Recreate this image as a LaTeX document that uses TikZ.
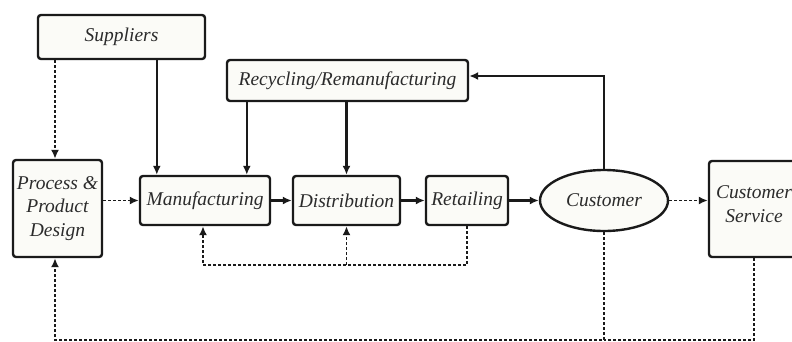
\documentclass[tikz,border=0pt]{standalone}
\usepackage{fontspec}
\setmainfont{Liberation Serif}
\usetikzlibrary{arrows.meta,shapes.geometric,calc}
\definecolor{ln}{HTML}{1A1A1A}
\definecolor{bx}{HTML}{FBFBF7}
\definecolor{tx}{HTML}{2B2B2B}
\tikzset{
  box/.style={draw=ln,fill=bx,line width=2.4pt,rounded corners=3pt,inner sep=2pt,
    align=center,text=tx,font=\fontsize{19.5}{23.5}\selectfont\itshape},
  oval/.style={box,ellipse,rounded corners=0pt},
  plain/.style={align=center,text=tx,font=\fontsize{19.5}{23.5}\selectfont\itshape,inner sep=0pt},
  solidarrow/.style={draw=ln,line width=2.2pt,-{Latex[length=9pt,width=8pt]}},
  solidline/.style={draw=ln,line width=2.2pt},
  dasharrow/.style={draw=ln,line width=1.8pt,dash pattern=on 3pt off 2pt,-{Latex[length=9pt,width=8pt]}},
  dashline/.style={draw=ln,line width=1.8pt,dash pattern=on 3pt off 2pt},
}
\begin{document}
\begin{tikzpicture}[x=1pt,y=-1pt]
\clip (0,0) rectangle (792,341);
\useasboundingbox (0,0) rectangle (792,341);
\fill[white] (0,0) rectangle (792,341);
\node[box,minimum width=167pt,minimum height=44pt] (sup) at (121.5,37) {Suppliers};
\node[box,minimum width=241pt,minimum height=41pt] (rec) at (347.5,80.5) {Recycling/Remanufacturing};
\node[box,minimum width=89pt,minimum height=97pt] (proc) at (57.5,208.5) {Process \&\\Product\\Design};
\node[box,minimum width=130pt,minimum height=49pt] (manu) at (205,200.5) {Manufacturing};
\node[box,minimum width=107pt,minimum height=49pt] (dist) at (346.5,200.5) {Distribution};
\node[box,minimum width=82pt,minimum height=49pt] (ret) at (467,200.5) {Retailing};
\node[oval,minimum width=128pt,minimum height=61pt,inner sep=0pt] (cust) at (604,200.5) {Customer};
\node[box,minimum width=90pt,minimum height=96pt] (cs) at (754,209) {};
\node[plain] (cst) at (754,204) {Customer\\Service};
% main flow
\draw[dasharrow] (proc.east |- manu.west) -- (manu.west);
\draw[solidarrow] (manu) -- (dist);
\draw[solidarrow] (dist) -- (ret);
\draw[solidarrow] (ret) -- (cust);
\draw[dasharrow] (cust.east) -- (cs.west |- cust.east);
% suppliers
\coordinate (pt) at ([xshift=-2.5pt]proc.north);
\draw[dasharrow] (sup.south -| pt) -- (pt);
\coordinate (m1) at ([xshift=18pt]manu.north west);
\draw[solidarrow] (sup.south -| m1) -- (m1);
% recycling
\coordinate (m2) at ([xshift=108pt]manu.north west);
\draw[solidarrow] (rec.south -| m2) -- (m2);
\draw[solidarrow] (rec.south -| dist.north) -- (dist.north);
\coordinate (re) at ([yshift=4.5pt]rec.east);
\draw[solidarrow] (cust.north) |- (re);
% feedback from retailing
\coordinate (fb) at ([yshift=-39pt]ret.south);
\draw[dasharrow] (ret.south) -- (fb) -| ([xshift=-2pt]manu.south);
\draw[dasharrow] (fb -| dist.south) -- (dist.south);
% feedback from customer
\coordinate (pb) at ([xshift=-2.5pt]proc.south);
\coordinate (bl) at ($(cust.south)+(0,108)$);
\draw[dasharrow] (cust.south) -- (bl) -| (pb);
\draw[dashline] (cs.south) |- (bl);
\end{tikzpicture}
\end{document}
